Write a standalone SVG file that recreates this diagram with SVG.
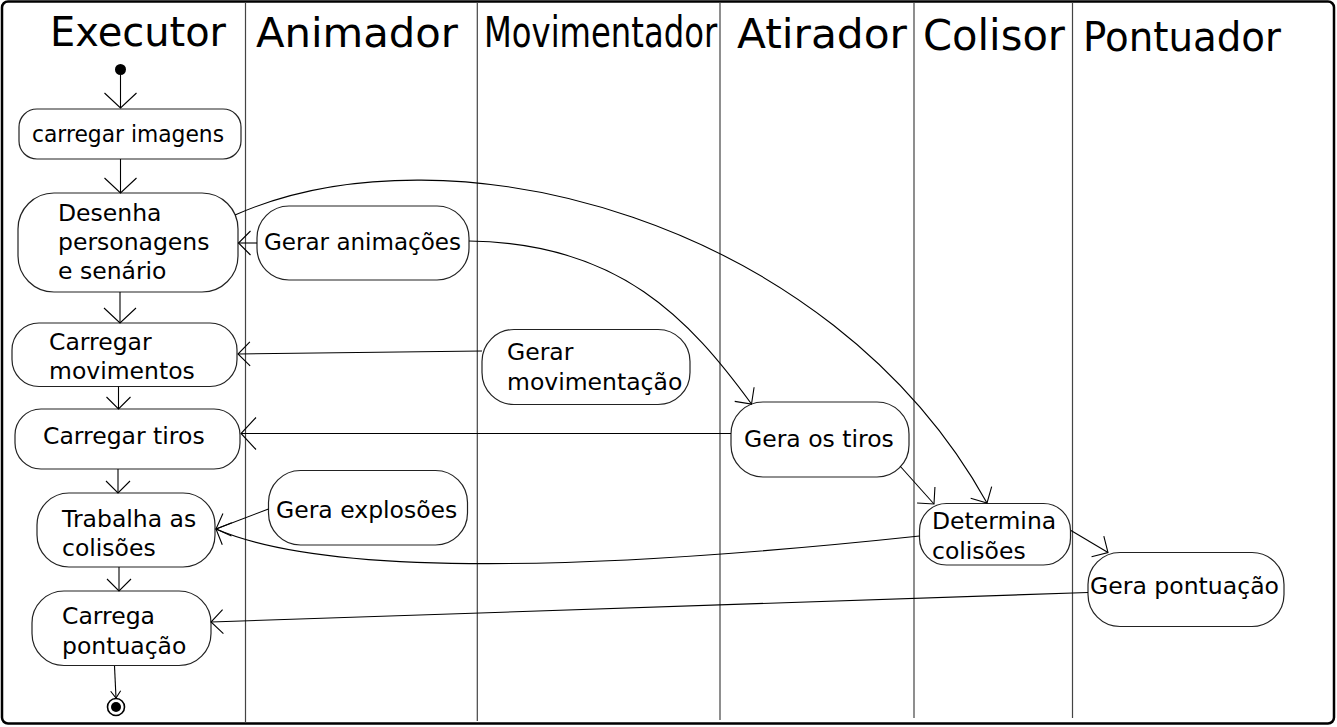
<svg xmlns="http://www.w3.org/2000/svg" width="1337" height="727" viewBox="0 0 1337 727">
<style>
  .frame{fill:#fff;stroke:#000;stroke-width:2.5}
  .lane{stroke:#444;stroke-width:1.2;fill:none}
  .hdr{font-family:"DejaVu Sans",sans-serif;fill:#000}
  .node rect{fill:#fff;stroke:#222;stroke-width:1.2}
  .node text{font-family:"DejaVu Sans",sans-serif;font-size:23.5px;fill:#000}
  .c{fill:none;stroke:#000;stroke-width:1.1}
</style>
<defs>
  <marker id="arrB" markerUnits="userSpaceOnUse" markerWidth="40" markerHeight="40" refX="0" refY="0" orient="auto" overflow="visible">
    <path d="M-15,-16 L0,0 L-15,16" fill="none" stroke="#000" stroke-width="1.1"/>
  </marker>
  <marker id="arrM" markerUnits="userSpaceOnUse" markerWidth="40" markerHeight="40" refX="0" refY="0" orient="auto" overflow="visible">
    <path d="M-12,-12 L0,0 L-12,12" fill="none" stroke="#000" stroke-width="1.1"/>
  </marker>
  <marker id="arrS" markerUnits="userSpaceOnUse" markerWidth="20" markerHeight="20" refX="0" refY="0" orient="auto" overflow="visible">
    <path d="M-7,-5 L0,0 L-7,5" fill="none" stroke="#000" stroke-width="1.1"/>
  </marker>
</defs>

<rect class="frame" x="2" y="1.5" width="1332" height="722" rx="6"/>

<g id="lanes">
  <line class="lane" x1="245.5" y1="2" x2="245.5" y2="723"/>
  <line class="lane" x1="477.3" y1="2" x2="477.3" y2="721"/>
  <line class="lane" x1="720" y1="2" x2="720" y2="720"/>
  <line class="lane" x1="914" y1="2" x2="914" y2="718"/>
  <line class="lane" x1="1072.5" y1="2" x2="1072.5" y2="718"/>
  <text class="hdr" x="50" y="46" font-size="40" textLength="176" lengthAdjust="spacingAndGlyphs">Executor</text>
  <text class="hdr" x="256" y="46.5" font-size="41.5" textLength="202" lengthAdjust="spacingAndGlyphs">Animador</text>
  <text class="hdr" x="0" y="0" font-size="42" transform="translate(484,46.5) scale(0.768,1)">Movimentador</text>
  <text class="hdr" x="737" y="47.5" font-size="41" textLength="170" lengthAdjust="spacingAndGlyphs">Atirador</text>
  <text class="hdr" x="923" y="50" font-size="42" textLength="142" lengthAdjust="spacingAndGlyphs">Colisor</text>
  <text class="hdr" x="1083" y="50.5" font-size="41" textLength="198" lengthAdjust="spacingAndGlyphs">Pontuador</text>
</g>

<g id="start"><circle cx="120.5" cy="69.5" r="5.5" fill="#000"/></g>
<g id="end">
  <circle cx="116" cy="707" r="8.5" fill="#fff" stroke="#000" stroke-width="1.6"/>
  <circle cx="116" cy="707" r="5" fill="#000"/>
</g>

<g id="carregar-imagens" class="node">
  <rect x="19" y="109" width="222" height="50" rx="18"/>
  <text x="32" y="142" font-size="24" textLength="192" lengthAdjust="spacingAndGlyphs">carregar imagens</text>
</g>
<g id="desenha" class="node">
  <rect x="18" y="193" width="220" height="99" rx="36"/>
  <text x="58" y="221">Desenha</text>
  <text x="58" y="250">personagens</text>
  <text x="58" y="279">e senário</text>
</g>
<g id="gerar-animacoes" class="node">
  <rect x="257" y="206" width="212" height="74" rx="32"/>
  <text x="264" y="250" textLength="197" lengthAdjust="spacingAndGlyphs">Gerar animações</text>
</g>
<g id="carregar-movimentos" class="node">
  <rect x="12" y="323" width="225" height="63.5" rx="27"/>
  <text x="49" y="349.5">Carregar</text>
  <text x="49" y="378.5">movimentos</text>
</g>
<g id="gerar-movimentacao" class="node">
  <rect x="482" y="329.5" width="208" height="75" rx="32"/>
  <text x="507" y="359.5">Gerar</text>
  <text x="507" y="389.5">movimentação</text>
</g>
<g id="carregar-tiros" class="node">
  <rect x="15" y="409" width="225" height="60" rx="26"/>
  <text x="43" y="444">Carregar tiros</text>
</g>
<g id="gera-os-tiros" class="node">
  <rect x="731" y="402" width="178" height="75" rx="32"/>
  <text x="744" y="447">Gera os tiros</text>
</g>
<g id="trabalha" class="node">
  <rect x="37" y="493" width="178" height="74" rx="32"/>
  <text x="62" y="527">Trabalha as</text>
  <text x="62" y="556">colisões</text>
</g>
<g id="gera-explosoes" class="node">
  <rect x="268.5" y="470.5" width="199" height="74.5" rx="32"/>
  <text x="276" y="517.5">Gera explosões</text>
</g>
<g id="determina" class="node">
  <rect x="919.5" y="503.5" width="151" height="61.5" rx="27"/>
  <text x="932" y="528.5">Determina</text>
  <text x="932" y="558.5">colisões</text>
</g>
<g id="carrega-pontuacao" class="node">
  <rect x="32" y="591" width="179" height="74.5" rx="32"/>
  <text x="62" y="623.5">Carrega</text>
  <text x="62" y="653.5">pontuação</text>
</g>
<g id="gera-pontuacao" class="node">
  <rect x="1088" y="552.5" width="196" height="74" rx="32"/>
  <text x="1090" y="593.5" textLength="189" lengthAdjust="spacingAndGlyphs">Gera pontuação</text>
</g>

<g id="connectors">
  <path class="c" d="M120.5,75 L120.5,108" marker-end="url(#arrB)"/>
  <path class="c" d="M120.5,159 L120.5,193" marker-end="url(#arrB)"/>
  <path class="c" d="M120,292 L120,323" marker-end="url(#arrB)"/>
  <path class="c" d="M118.5,386.5 L118.5,409" marker-end="url(#arrM)"/>
  <path class="c" d="M118,469 L118,493" marker-end="url(#arrM)"/>
  <path class="c" d="M119,567 L119,591" marker-end="url(#arrM)"/>
  <path class="c" d="M114.5,666 L116,698" marker-end="url(#arrS)"/>
  <path class="c" d="M257,243 L238.5,243" marker-end="url(#arrM)"/>
  <path class="c" d="M482,351 L238,354" marker-end="url(#arrM)"/>
  <path class="c" d="M731,433.5 L241,433.5" marker-end="url(#arrB)"/>
  <path class="c" d="M268.5,509 L216,529" marker-end="url(#arrM)"/>
  <path class="c" d="M919.5,536 C600,570 330,578 216,529" marker-end="url(#arrM)"/>
  <path class="c" d="M1088,592.5 L211,622" marker-end="url(#arrM)"/>
  <path class="c" d="M235,215 C450,120 830,220 987,503" marker-end="url(#arrM)"/>
  <path class="c" d="M469,241 C620,243 690,320 751.5,404" marker-end="url(#arrM)"/>
  <path class="c" d="M900,466 L934,504" marker-end="url(#arrM)"/>
  <path class="c" d="M1071,530.5 L1108,552.5" marker-end="url(#arrM)"/>
</g>
</svg>
